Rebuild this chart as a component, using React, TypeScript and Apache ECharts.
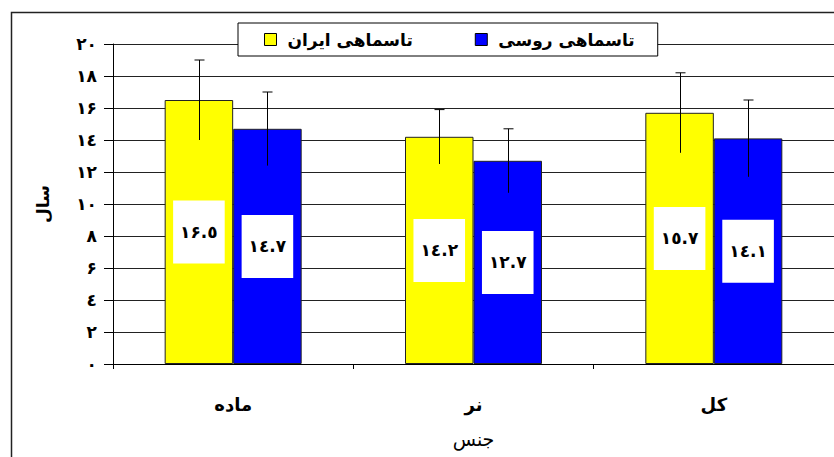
import React, { useEffect, useRef } from "react";
import * as echarts from "echarts";

const categories = ["ماده", "نر", "کل"];
const seriesNames = ["تاسماهی ایران", "تاسماهی روسی"];
const iranValues = [16.5, 14.2, 15.7];
const russiaValues = [14.7, 12.7, 14.1];
const iranErrors = [2.5, 1.7, 2.5];
const russiaErrors = [2.3, 2.0, 2.4];
const yTicks = { min: 0, max: 20, interval: 2 };

const DIGITS: Record<string, string> = {
  "0": "\u0660",
  "1": "\u0661",
  "2": "\u0662",
  "3": "\u0663",
  "4": "\u0664",
  "5": "\u0665",
  "6": "\u06F6",
  "7": "\u0667",
  "8": "\u0668",
  "9": "\u0669",
};
const toFa = (v: number | string) =>
  String(v).replace(/[0-9]/g, (d) => DIGITS[d]);

const FONT = "DejaVu Sans";
const CAT_GAP = 0.43;

export default function App() {
  const ref = useRef<HTMLDivElement>(null);
  useEffect(() => {
    document.body.style.margin = "0";
    if (!ref.current) return;
    const chart = echarts.init(ref.current, null, { renderer: "svg" });

    const errData = (vals: number[], errs: number[]) =>
      vals.map((v, i) => [i, v - errs[i], v + errs[i]]);

    const makeErr = (side: number) => (params: any, api: any) => {
      const cat = api.value(0);
      const lo = api.coord([cat, api.value(1)]);
      const hi = api.coord([cat, api.value(2)]);
      const catW = api.size([1, 0])[0];
      const bw = (catW * (1 - CAT_GAP)) / 2;
      const x = Math.round(lo[0] + side * bw / 2) + 0.5;
      const style = { stroke: "#000", lineWidth: 1 };
      return {
        type: "group",
        children: [
          { type: "line", shape: { x1: x, y1: lo[1], x2: x, y2: hi[1] }, style },
          { type: "line", shape: { x1: x - 5, y1: hi[1], x2: x + 5, y2: hi[1] }, style },
        ],
      };
    };

    const barLabel = {
      show: true,
      position: "inside",
      backgroundColor: "#fff",
      padding: [23, 7, 23, 7],
      color: "#000",
      fontFamily: FONT,
      fontWeight: "bold",
      fontSize: 17,
      formatter: (p: any) => toFa(p.value),
    };

    chart.setOption({
      animation: false,
      textStyle: { fontFamily: FONT },
      graphic: [
        {
          type: "rect",
          shape: { x: 11.5, y: 12.5, width: 900, height: 600 },
          style: { fill: "none", stroke: "#222", lineWidth: 1.5 },
          z: -10,
          silent: true,
        },
      ],
      legend: {
        left: 238,
        top: 23,
        data: seriesNames,
        icon: "rect",
        backgroundColor: "#fff",
        borderColor: "#000",
        borderWidth: 1,
        borderRadius: 0,
        padding: [8, 23, 8, 26],
        itemGap: 62,
        itemWidth: 12,
        itemHeight: 12,
        itemStyle: { borderColor: "#000", borderWidth: 1 },
        textStyle: {
          fontFamily: FONT,
          fontWeight: "bold",
          fontSize: 17,
          color: "#000",
          padding: [0, 0, 0, 6],
        },
        z: 10,
      },
      grid: { left: 113, top: 44, width: 724.5, height: 320 },
      xAxis: {
        type: "category",
        data: categories,
        name: "جنس",
        nameLocation: "middle",
        nameGap: 65,
        nameTextStyle: { fontFamily: FONT, fontSize: 19, color: "#000" },
        axisLine: { lineStyle: { color: "#000", width: 1 } },
        axisTick: { show: true, length: 5, lineStyle: { color: "#000" } },
        axisLabel: {
          margin: 31,
          color: "#000",
          fontFamily: FONT,
          fontWeight: "bold",
          fontSize: 18,
        },
      },
      yAxis: {
        type: "value",
        min: yTicks.min,
        max: yTicks.max,
        interval: yTicks.interval,
        name: "سال",
        nameLocation: "middle",
        nameGap: 62,
        nameRotate: 90,
        nameTextStyle: { fontFamily: FONT, fontSize: 17, fontWeight: "bold", color: "#000" },
        axisLine: { show: true, lineStyle: { color: "#000", width: 1 } },
        axisTick: { show: true, length: 9, lineStyle: { color: "#000" } },
        splitLine: { show: true, lineStyle: { color: "#222", width: 1 } },
        axisLabel: {
          margin: 16,
          color: "#000",
          fontFamily: FONT,
          fontWeight: "bold",
          fontSize: 17,
          formatter: (v: number) => toFa(v),
        },
      },
      series: [
        {
          name: seriesNames[0],
          type: "bar",
          data: iranValues,
          barGap: "0%",
          barCategoryGap: "43%",
          itemStyle: { color: "#FFFF00", borderColor: "#222", borderWidth: 1 },
          label: barLabel,
        },
        {
          name: seriesNames[1],
          type: "bar",
          data: russiaValues,
          barGap: "0%",
          barCategoryGap: "43%",
          itemStyle: { color: "#0000FF", borderColor: "#222", borderWidth: 1 },
          label: barLabel,
        },
        {
          type: "custom",
          renderItem: makeErr(-1),
          data: errData(iranValues, iranErrors),
          z: 5,
          silent: true,
        },
        {
          type: "custom",
          renderItem: makeErr(1),
          data: errData(russiaValues, russiaErrors),
          z: 5,
          silent: true,
        },
      ],
    });
    return () => chart.dispose();
  }, []);
  return <div ref={ref} style={{ width: 834, height: 457 }} />;
}
